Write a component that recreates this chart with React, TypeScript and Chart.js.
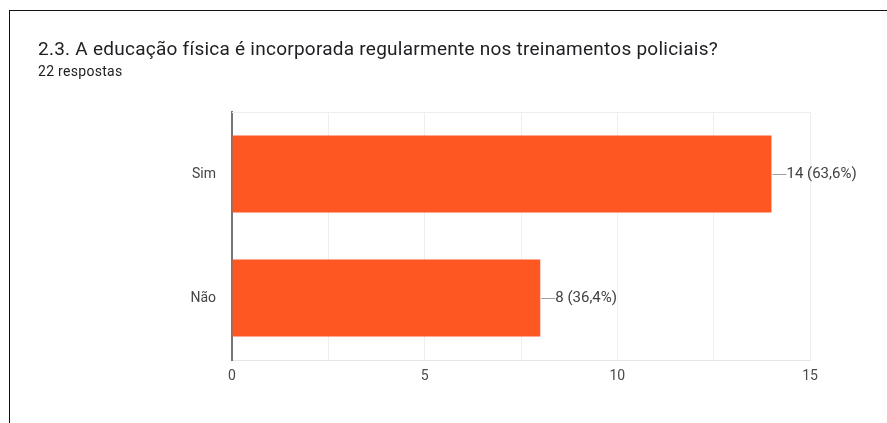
import React, { useEffect, useRef } from "react";
import { Chart, registerables } from "chart.js";

Chart.register(...registerables);

const TITLE = "2.3. A educação física é incorporada regularmente nos treinamentos policiais?";
const SUBTITLE = "22 respostas";
const categories = ["Sim", "Não"];
const counts = [14, 8];
const xTickLabels = ["0", "5", "10", "15"];

const FONT = "Roboto, 'Noto Sans', Arial, sans-serif";
const BAR_COLOR = "#ff5722";

const total = counts.reduce((a, b) => a + b, 0);
const valueLabels = counts.map(
  (v) => `${v} (${((v / total) * 100).toFixed(1).replace(".", ",")}%)`
);

const decorPlugin = {
  id: "decor",
  beforeDatasetsDraw(chart: any) {
    const { ctx, chartArea } = chart;
    ctx.save();
    ctx.strokeStyle = "#eeeeee";
    ctx.lineWidth = 1;
    ctx.beginPath();
    ctx.moveTo(chartArea.left, chartArea.top + 0.5);
    ctx.lineTo(chartArea.right, chartArea.top + 0.5);
    ctx.stroke();
    ctx.restore();
  },
  afterDatasetsDraw(chart: any) {
    const { ctx } = chart;
    const meta = chart.getDatasetMeta(0);
    ctx.save();
    meta.data.forEach((el: any, i: number) => {
      const x = el.x;
      const y = Math.round(el.y) + 0.5;
      ctx.strokeStyle = "#9e9e9e";
      ctx.lineWidth = 1;
      ctx.beginPath();
      ctx.moveTo(x + 1, y);
      ctx.lineTo(x + 15, y);
      ctx.stroke();
      ctx.fillStyle = "#424242";
      ctx.font = `15px ${FONT}`;
      ctx.textAlign = "left";
      ctx.textBaseline = "middle";
      ctx.fillText(valueLabels[i], x + 15, y);
    });
    ctx.restore();
  },
};

export default function App() {
  const canvasRef = useRef<HTMLCanvasElement | null>(null);

  useEffect(() => {
    const canvas = canvasRef.current;
    if (!canvas) return;
    const chart = new Chart(canvas, {
      type: "bar",
      data: {
        labels: categories,
        datasets: [
          {
            data: counts,
            backgroundColor: BAR_COLOR,
            borderWidth: 0,
            barPercentage: 0.62,
            categoryPercentage: 1,
          },
        ],
      },
      options: {
        indexAxis: "y",
        responsive: false,
        animation: false,
        devicePixelRatio: 1,
        layout: { padding: { top: 112, right: 77, left: 0, bottom: 0 } },
        plugins: {
          legend: { display: false },
          tooltip: { enabled: false },
          title: { display: false },
        },
        scales: {
          x: {
            min: 0,
            max: 15,
            afterFit: (scale: any) => {
              scale.height = 63;
            },
            ticks: {
              stepSize: 2.5,
              padding: 8,
              color: "#4a4a4a",
              font: { family: FONT, size: 14 },
              autoSkip: false,
              maxRotation: 0,
              callback: (value: any) => {
                const idx = xTickLabels.indexOf(String(value));
                return idx >= 0 ? xTickLabels[idx] : "";
              },
            },
            grid: {
              color: "#eeeeee",
              lineWidth: 1,
              drawTicks: false,
            },
            border: { color: "#e6e6e6", width: 1 },
          },
          y: {
            afterFit: (scale: any) => {
              scale.width = 232;
            },
            ticks: {
              padding: 16,
              color: "#444444",
              font: { family: FONT, size: 14 },
            },
            grid: { display: false, drawTicks: false },
            border: { color: "#757575", width: 2 },
          },
        },
      },
      plugins: [decorPlugin],
    });
    return () => chart.destroy();
  }, []);

  return (
    <div
      style={{
        position: "absolute",
        left: 0,
        top: 0,
        width: 887,
        height: 423,
        overflow: "hidden",
        background: "#ffffff",
        fontFamily: FONT,
      }}
    >
      <div
        style={{
          position: "absolute",
          left: 9,
          top: 10,
          width: 900,
          height: 430,
          borderTop: "1px solid #111",
          borderLeft: "1px solid #111",
          boxSizing: "border-box",
        }}
      />
      <canvas
        ref={canvasRef}
        width={887}
        height={423}
        style={{ position: "absolute", left: 0, top: 0, width: 887, height: 423 }}
      />
      <div
        style={{
          position: "absolute",
          left: 38,
          top: 39,
          fontSize: 19,
          lineHeight: "19px",
          letterSpacing: "0.25px",
          color: "#202124",
          whiteSpace: "nowrap",
        }}
      >
        {TITLE}
      </div>
      <div
        style={{
          position: "absolute",
          left: 38,
          top: 64,
          fontSize: 14,
          lineHeight: "14px",
          letterSpacing: "0.3px",
          color: "#202124",
          whiteSpace: "nowrap",
        }}
      >
        {SUBTITLE}
      </div>
    </div>
  );
}
